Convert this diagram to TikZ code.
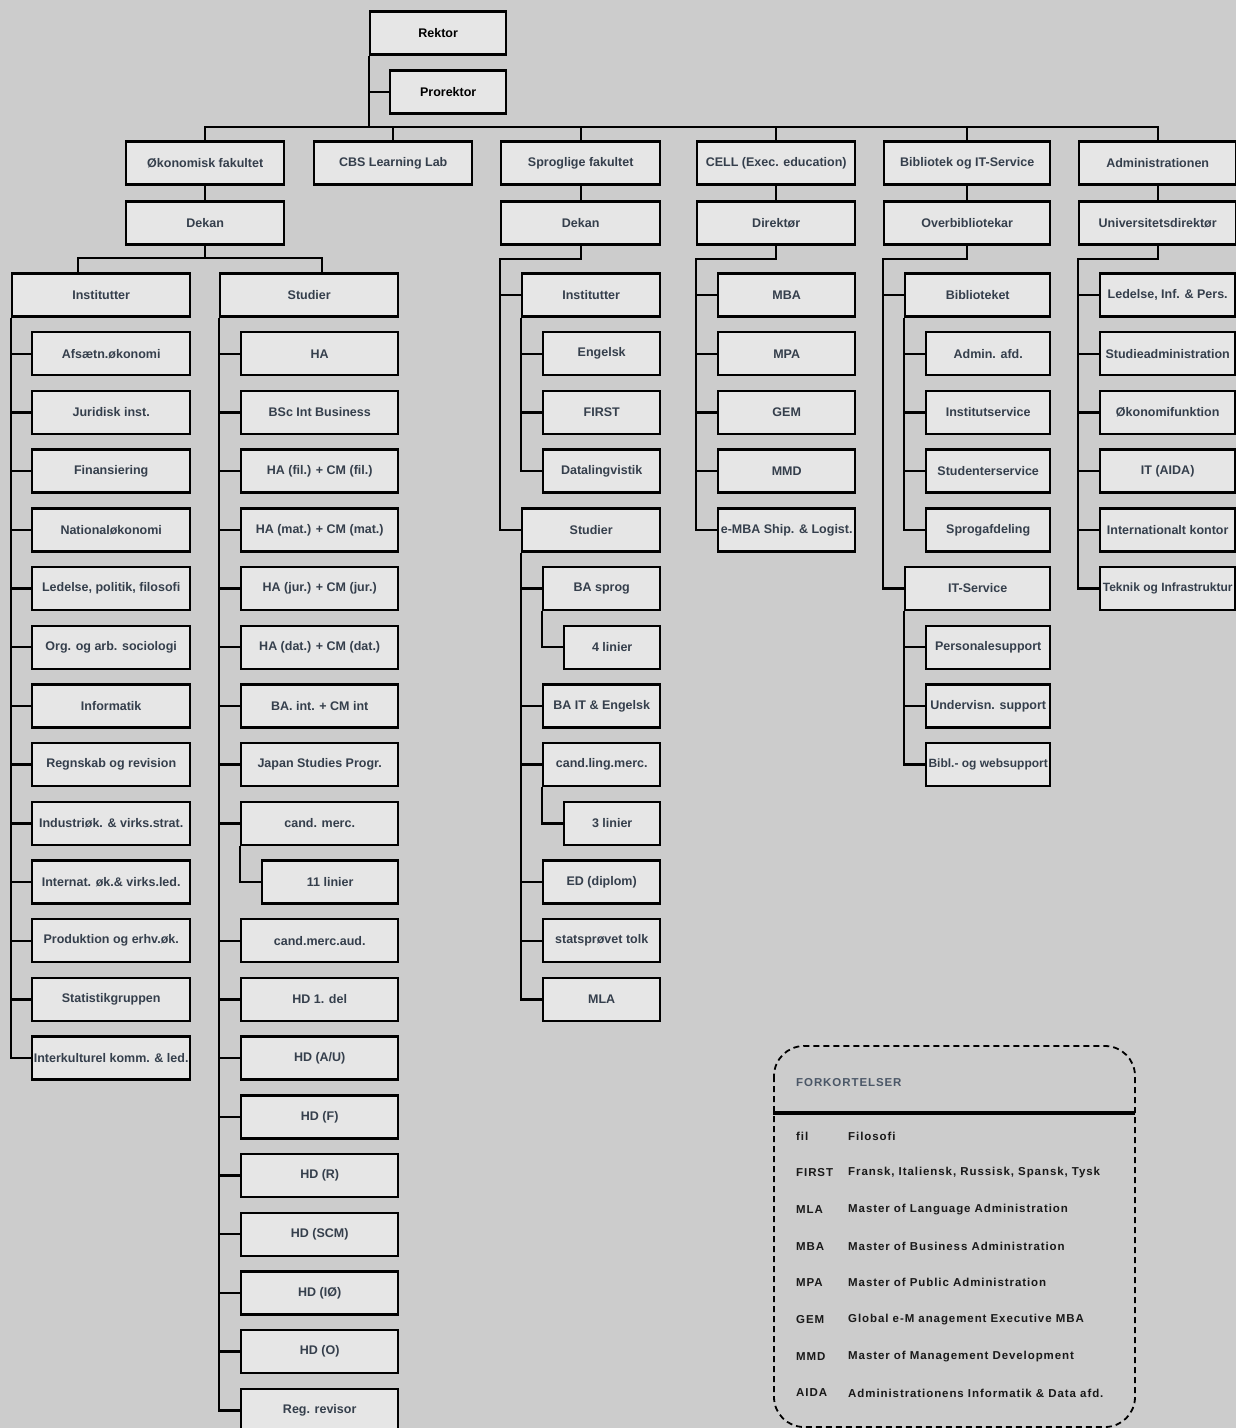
\documentclass[tikz,border=0pt]{standalone}
\usepackage{fontspec}
\setmainfont{Liberation Sans}
\newfontfamily\keyfont[LetterSpace=8]{Liberation Sans}
\usetikzlibrary{positioning,calc}
\definecolor{canvas}{HTML}{CCCCCC}
\definecolor{boxfill}{HTML}{E6E6E6}
\definecolor{slate}{HTML}{353F4C}
\definecolor{keyslate}{HTML}{4B5767}
\tikzstyle{unit}=[
	 draw, line width=2.4pt, fill=boxfill,
	 minimum height=43pt, inner sep=0pt, anchor=west,
	 text=slate, font=\fontsize{12.5}{14}\selectfont\bfseries
    ]
\tikzstyle{top}=[unit, text=black]
\tikzstyle{tight}=[font=\fontsize{12}{14}\selectfont\bfseries]
\tikzstyle{link}=[line width=2.4pt]
\tikzstyle{key}=[anchor=west, inner sep=0pt, text=black!90,
	 font=\keyfont\fontsize{11.5}{13}\selectfont\bfseries]
\newcommand{\pSpine}[2]{\draw[link] (#1.south west) |- (#2.west)}
\newcommand{\pBus}[2]{\draw[link] (#1.south) -- ++(0,13) -| (#1.west |- #2.west) -- (#2.west)}

\begin{document}
\begin{tikzpicture}[x=1pt,y=-1pt]
\fill[canvas] (0,0) rectangle (1236,1428);
\useasboundingbox (0,0) rectangle (1236,1428);

\node[top,minimum width=136pt] (rektor) at (369,33) {Rektor};
\node[top,minimum width=116pt] (prorektor) at (389,92) {Prorektor};

\node[unit,minimum width=158pt] (okfak) at (125,163) {Økonomisk fakultet};
\node[unit,minimum width=158pt] (cbs) at (313,163) {CBS Learning Lab};
\node[unit,minimum width=159pt] (sprfak) at (500,163) {Sproglige fakultet};
\node[unit,minimum width=158pt] (cell) at (696,163) {CELL (Exec. education)};
\node[unit,minimum width=166pt] (bibfak) at (883,163) {Bibliotek og IT-Service};
\node[unit,minimum width=157pt] (admin) at (1078,163) {Administrationen};

\node[unit,minimum width=158pt] (okdekan) at (125,223) {Dekan};
\node[unit,minimum width=159pt] (sprdekan) at (500,223) {Dekan};
\node[unit,minimum width=158pt] (direktor) at (696,223) {Direktør};
\node[unit,minimum width=166pt] (overbib) at (883,223) {Overbibliotekar};
\node[unit,minimum width=157pt] (unidir) at (1078,223) {Universitetsdirektør};

% Oekonomisk fakultet
\node[unit,minimum width=178pt] (okinst) at (11,295) {Institutter};
\node[unit,minimum width=178pt] (okstud) at (219,295) {Studier};
\foreach \t [count=\k] in {Afsætn.økonomi, Juridisk inst., Finansiering,
    Nationaløkonomi, {Ledelse, politik, filosofi}, Org. og arb. sociologi,
    Informatik, Regnskab og revision, Industriøk. \& virks.strat.,
    Internat. øk.\& virks.led., Produktion og erhv.øk., Statistikgruppen,
    Interkulturel komm. \& led.}
  \node[unit,minimum width=158pt] (okinst\k) at (31,{295+58.7*\k}) {\t};
\foreach \k/\t in {1/HA, 2/BSc Int Business, 3/HA (fil.) + CM (fil.),
    4/HA (mat.) + CM (mat.), 5/HA (jur.) + CM (jur.), 6/HA (dat.) + CM (dat.),
    7/BA. int. + CM int, 8/Japan Studies Progr., 9/cand. merc.,
    11/cand.merc.aud., 12/HD 1. del, 13/{HD (A/U)}, 14/HD (F), 15/HD (R),
    16/HD (SCM), 17/HD (IØ), 18/HD (O), 19/Reg. revisor}
  \node[unit,minimum width=157pt] (okstud\k) at (240,{295+58.7*\k}) {\t};
\node[unit,minimum width=136pt] (okstud10) at (261,{295+58.7*10}) {11 linier};

% Sproglige fakultet
\node[unit,minimum width=138pt] (sprinst) at (521,295) {Institutter};
\foreach \t [count=\k] in {Engelsk, FIRST, Datalingvistik}
  \node[unit,minimum width=117pt] (sprinst\k) at (542,{295+58.7*\k}) {\t};
\node[unit,minimum width=138pt] (sprstud) at (521,{295+58.7*4}) {Studier};
\foreach \k/\t in {5/BA sprog, 7/BA IT \& Engelsk, 8/cand.ling.merc.,
    10/ED (diplom), 11/statsprøvet tolk, 12/MLA}
  \node[unit,minimum width=117pt] (sprstud\k) at (542,{295+58.7*\k}) {\t};
\node[unit,minimum width=96pt] (sprstud6) at (563,{295+58.7*6}) {4 linier};
\node[unit,minimum width=96pt] (sprstud9) at (563,{295+58.7*9}) {3 linier};

% CELL
\foreach \t [count=\k from 0] in {MBA, MPA, GEM, MMD, e-MBA Ship. \& Logist.}
  \node[unit,minimum width=137pt] (cell\k) at (717,{295+58.7*\k}) {\t};

% Bibliotek og IT-Service
\node[unit,minimum width=145pt] (bibl) at (904,295) {Biblioteket};
\foreach \t [count=\k] in {Admin. afd., Institutservice, Studenterservice, Sprogafdeling}
  \node[unit,minimum width=124pt] (bibl\k) at (925,{295+58.7*\k}) {\t};
\node[unit,minimum width=145pt] (itserv) at (904,{295+58.7*5}) {IT-Service};
\foreach \t [count=\k from 6] in {Personalesupport, Undervisn. support}
  \node[unit,minimum width=124pt] (itserv\k) at (925,{295+58.7*\k}) {\t};
\node[unit,tight,minimum width=124pt] (itserv8) at (925,{295+58.7*8}) {Bibl.- og websupport};

% Administrationen
\foreach \t [count=\k from 0] in {{Ledelse, Inf. \& Pers.}, Studieadministration,
    Økonomifunktion, IT (AIDA), Internationalt kontor}
  \node[unit,minimum width=135pt] (adm\k) at (1099,{295+58.7*\k}) {\t};
\node[unit,tight,minimum width=135pt] (adm5) at (1099,{295+58.7*5}) {Teknik og Infrastruktur};

% connectors
\coordinate (bus) at (369,127);
\pSpine{rektor}{prorektor};
\draw[link] (rektor.south west) -- (bus);
\draw[link] (okfak.north) |- (bus) -| (admin.north);
\foreach \f in {cbs,sprfak,cell,bibfak}
  \draw[link] (\f.north) -- (\f.north |- bus);
\foreach \f/\d in {okfak/okdekan,sprfak/sprdekan,cell/direktor,bibfak/overbib,admin/unidir}
  \draw[link] (\f.south) -- (\d.north);

\coordinate (okleft) at (78,258);
\coordinate (okright) at (322,258);
\draw[link] (okdekan.south) -- (okdekan.south |- okleft);
\draw[link] (okinst.north -| okleft) -- (okleft) -- (okright) -- (okstud.north -| okright);
\foreach \k in {1,...,13} \pSpine{okinst}{okinst\k};
\foreach \k in {1,...,9,11,12,...,19} \pSpine{okstud}{okstud\k};
\pSpine{okstud9}{okstud10};

\pBus{sprdekan}{sprinst};
\pBus{sprdekan}{sprstud};
\foreach \k in {1,2,3} \pSpine{sprinst}{sprinst\k};
\foreach \k in {5,7,8,10,11,12} \pSpine{sprstud}{sprstud\k};
\pSpine{sprstud5}{sprstud6};
\pSpine{sprstud8}{sprstud9};

\foreach \k in {0,...,4} \pBus{direktor}{cell\k};

\pBus{overbib}{bibl};
\pBus{overbib}{itserv};
\foreach \k in {1,...,4} \pSpine{bibl}{bibl\k};
\foreach \k in {6,7,8} \pSpine{itserv}{itserv\k};

\foreach \k in {0,...,5} \pBus{unidir}{adm\k};

% forkortelser
\draw[line width=1.8pt, dash pattern=on 6pt off 4pt, rounded corners=30pt]
  (774,1046) rectangle (1135,1427);
\draw[line width=3.6pt] (773,1113) -- (1135,1113);
\node[key,text=keyslate] (keyhead) at (796,1083) {FORKORTELSER};
\foreach \a/\d [count=\k from 0] in {fil/Filosofi,
    FIRST/{Fransk, Italiensk, Russisk, Spansk, Tysk},
    MLA/Master of Language Administration,
    MBA/Master of Business Administration,
    MPA/Master of Public Administration,
    GEM/Global e-M anagement Executive MBA,
    MMD/Master of Management Development,
    AIDA/Administrationens Informatik \& Data afd.}
{
  \node[key] (abbr\k) at (796,{1136+36.7*\k}) {\a};
  \node[key] (desc\k) at (848,{1136+36.7*\k}) {\d};
}
\end{tikzpicture}
\end{document}
